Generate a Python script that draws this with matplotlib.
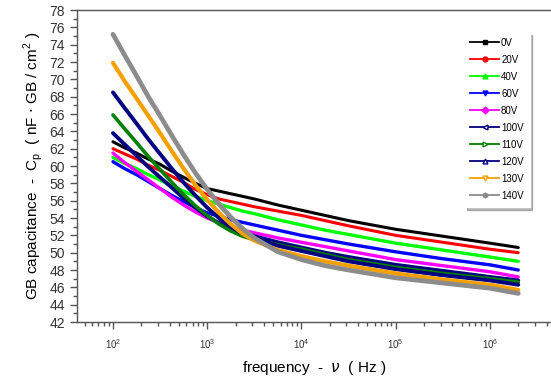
import numpy as np
import matplotlib.pyplot as plt
from matplotlib.ticker import MultipleLocator, LogLocator
from matplotlib.lines import Line2D

plt.rcParams['font.family'] = ['Liberation Sans', 'DejaVu Sans']

# frequency points (Hz)
freq = [100, 133, 178, 237, 316, 422, 562, 750, 1000, 1334, 1778, 2371, 3162,
        5623, 10000, 17783, 31623, 100000, 316228, 1000000, 2000000]

# capacitance values (nF*GB/cm^2) for each bias voltage
cp_0V = [62.8, 62.1, 61.5, 60.8, 60.2, 59.4, 58.7, 58.0, 57.4, 57.1, 56.8, 56.5, 56.2,
         55.5, 54.9, 54.3, 53.7, 52.7, 51.9, 51.1, 50.6]
cp_20V = [62.0, 61.4, 60.8, 60.1, 59.5, 58.8, 58.1, 57.3, 56.7, 56.2, 55.9, 55.6, 55.3,
          54.8, 54.3, 53.7, 53.1, 52.0, 51.2, 50.4, 50.0]
cp_40V = [61.0, 60.3, 59.7, 59.0, 58.4, 57.7, 57.1, 56.5, 56.0, 55.6, 55.2, 54.8, 54.5,
          53.8, 53.2, 52.6, 52.1, 51.1, 50.3, 49.5, 49.0]
cp_60V = [60.5, 59.7, 59.0, 58.2, 57.4, 56.6, 55.9, 55.2, 54.6, 54.2, 53.8, 53.5, 53.2,
          52.6, 52.0, 51.5, 51.0, 50.1, 49.3, 48.6, 48.0]
cp_80V = [61.5, 60.4, 59.4, 58.4, 57.4, 56.4, 55.5, 54.7, 54.0, 53.5, 53.0, 52.6, 52.3,
          51.7, 51.2, 50.7, 50.2, 49.2, 48.5, 47.8, 47.2]
cp_100V = [63.8, 62.5, 61.2, 59.9, 58.7, 57.5, 56.3, 55.2, 54.2, 53.4, 52.8, 52.3, 51.9,
           51.2, 50.6, 50.0, 49.5, 48.6, 47.9, 47.2, 46.8]
cp_110V = [65.9, 64.3, 62.7, 61.1, 59.6, 58.1, 56.7, 55.4, 54.3, 53.3, 52.5, 51.9, 51.5,
           50.9, 50.4, 49.8, 49.2, 48.3, 47.6, 47.0, 46.6]
cp_120V = [68.5, 66.7, 64.9, 63.1, 61.4, 59.7, 58.1, 56.6, 55.2, 54.0, 53.0, 52.2, 51.6,
           50.8, 50.2, 49.6, 49.0, 48.1, 47.4, 46.8, 46.3]
cp_130V = [71.9, 69.8, 67.8, 65.8, 63.8, 61.7, 59.7, 57.8, 56.1, 54.6, 53.3, 52.2, 51.4,
           50.3, 49.6, 49.0, 48.5, 47.6, 46.9, 46.3, 45.7]
cp_140V = [75.2, 72.8, 70.4, 68.0, 65.8, 63.5, 61.3, 59.2, 57.3, 55.6, 54.1, 52.8, 51.7,
           50.1, 49.2, 48.5, 48.0, 47.1, 46.5, 45.9, 45.3]

labels = ['0V', '20V', '40V', '60V', '80V', '100V', '110V', '120V', '130V', '140V']
series = [cp_0V, cp_20V, cp_40V, cp_60V, cp_80V, cp_100V, cp_110V, cp_120V, cp_130V, cp_140V]
colors = ['black', '#ff0000', '#00ff00', '#0000ff', '#ff00ff',
          '#000080', '#008000', '#000080', '#f5a000', '#8c8c8c']
markers = ['s', 'o', '^', 'v', 'D', '<', '>', '^', 'v', 'h']
filled = [True, True, True, True, True, False, False, False, False, True]
widths = [2.2, 2.2, 2.4, 2.4, 2.4, 2.8, 2.6, 2.8, 3.0, 3.4]

fig = plt.figure(figsize=(5.51, 3.89), dpi=100)
ax = fig.add_axes([0.1397, 0.1722, 0.8603, 0.802])

for y, c, w in zip(series, colors, widths):
    ax.plot(freq, y, color=c, lw=w, solid_capstyle='round', solid_joinstyle='round')

ax.set_xscale('log')
ax.set_xlim(41.5, 4.45e6)
ax.set_ylim(42, 78)
ax.yaxis.set_major_locator(MultipleLocator(2))
ax.yaxis.set_minor_locator(MultipleLocator(1))
ax.xaxis.set_major_locator(LogLocator(base=10, numticks=10))
ax.xaxis.set_minor_locator(LogLocator(base=10, subs=np.arange(2, 10), numticks=10))

for s in ['left', 'bottom', 'top']:
    ax.spines[s].set_color('#555555')
    ax.spines[s].set_linewidth(1.0)
ax.spines['right'].set_visible(False)
ax.tick_params(which='major', direction='out', length=5, width=1, color='#555555',
               labelsize=10, labelcolor='#333333')
ax.tick_params(which='minor', direction='out', length=3, width=1, color='#555555')
ax.tick_params(axis='x', which='major', labelsize=7, pad=6)
ax.tick_params(top=False, which='both')

ax.set_xlabel(r'frequency  -  $\nu$  ( Hz )', fontsize=11, labelpad=6)
ax.set_ylabel(r'GB capacitance  -  C$_\mathregular{p}$  ( nF $\cdot$ GB / cm$^\mathregular{2}$ )',
              fontsize=11, labelpad=3)

handles = [Line2D([], [], color=c, lw=1.3, marker=m, markersize=3.5,
                  markerfacecolor=(c if f else 'white'), markeredgecolor=c)
           for c, m, f in zip(colors, markers, filled)]
leg = ax.legend(handles, labels, loc='upper right', bbox_to_anchor=(0.965, 0.945),
                fontsize=7, frameon=True, handlelength=3.0, handletextpad=0.2,
                labelspacing=0.72, borderpad=0.6, fancybox=False,
                shadow={'color': '0.45'})
leg.get_frame().set_edgecolor('white')
leg.get_frame().set_facecolor('white')

fig.savefig('out.png', dpi=100)
